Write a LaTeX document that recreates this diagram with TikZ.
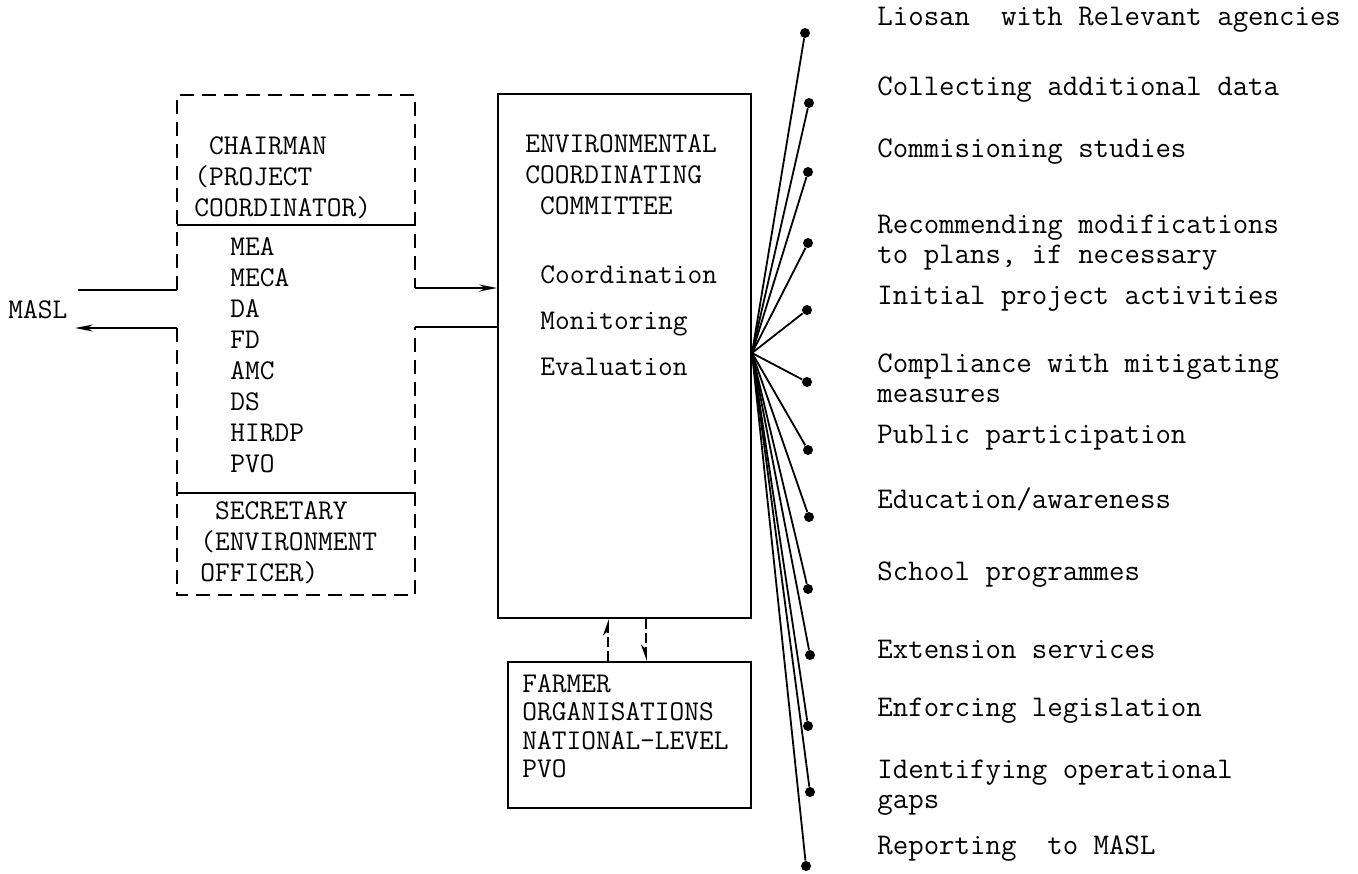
\documentclass[tikz,border=0pt]{standalone}
\usepackage{fontspec}
\usetikzlibrary{arrows.meta}
\newcommand\boxtype{\ttfamily\fontsize{14.3}{15.5}\selectfont}
\newcommand\listtype{\ttfamily\fontsize{15}{15}\selectfont}

\begin{document}
\begin{tikzpicture}[x=0.5pt,y=-0.5pt,
    edge/.style={line width=0.9pt},
    dashedge/.style={line width=0.9pt, dash pattern=on 7pt off 4pt},
    linkline/.style={line width=0.9pt, dash pattern=on 5pt off 2pt},
    solidbox/.style={draw, line width=0.9pt, inner sep=0pt},
    boxtext/.style={font=\boxtype, inner sep=0pt, align=left, anchor=west},
    listtext/.style={font=\listtype, inner sep=0pt, align=left, anchor=west},
    enddot/.style={circle, fill=black, inner sep=0pt, minimum size=5pt},
    narrowarrow/.style={-{Stealth[length=9pt,width=3.5pt,open]}}]
  \useasboundingbox (0,0) rectangle (1358,873);

  % the committee (dashed), open on both sides for the channel
  \coordinate (ul) at (177,290);
  \coordinate (ll) at (177,328);
  \coordinate (ur) at (415,288);
  \coordinate (lr) at (415,327);
  \draw[dashedge] (ul) -- (177,95) -- (415,95) -- (ur);
  \draw[dashedge] (ll) -- (177,595) -- (415,595) -- (lr);
  \draw[edge] (177,225) -- (415,225);
  \draw[edge] (177,493) -- (415,493);

  \node[boxtext] (chair) at (194,178) {~CHAIRMAN\\(PROJECT\\COORDINATOR)};
  \node[boxtext] (members) at (230,355) {MEA\\MECA\\DA\\FD\\AMC\\DS\\HIRDP\\PVO};
  \node[boxtext] (secr) at (200,543) {~SECRETARY\\(ENVIRONMENT\\OFFICER)};

  % MASL
  \node[boxtext] (masl) at (8,310) {MASL};
  \coordinate (masl-top) at (78,290);
  \coordinate (masl-bot) at (75,328);
  \draw[edge] (ul) -- (masl-top);
  \draw[edge, narrowarrow] (ll) -- (masl-bot);

  % coordinating committee
  \node[solidbox, minimum width=126.5pt, minimum height=262pt] (ecc) at (624.5,356) {};
  \node[boxtext] (ecc-title) at (525,175) {ENVIRONMENTAL\\COORDINATING\\~COMMITTEE};
  \node[boxtext, font={\ttfamily\fontsize{14.3}{23}\selectfont}] (ecc-tasks) at (540,321)
    {Coordination\\Monitoring\\Evaluation};
  \draw[edge, narrowarrow] (ur) -- (ur -| ecc.west);
  \draw[edge] (lr) -- (lr -| ecc.west);

  % farmer organisations
  \node[solidbox, minimum width=121.5pt, minimum height=73pt] (farmer) at (629.5,735) {};
  \node[boxtext, font={\ttfamily\fontsize{14.3}{14.25}\selectfont}] (farmer-text) at (522,726)
    {FARMER\\ORGANISATIONS\\NATIONAL-LEVEL\\PVO};
  \coordinate (upx) at (608,0);
  \coordinate (downx) at (646,0);
  \draw[linkline, -{Stealth[harpoon,length=7pt,width=5pt]}] (upx |- farmer.north) -- (upx |- ecc.south);
  \draw[linkline, -{Stealth[harpoon,swap,length=7pt,width=5pt]}] (downx |- ecc.south) -- (downx |- farmer.north);

  % tasks fanning out
  \coordinate (hub) at (752,353);
  \foreach \i/\dx/\dy/\ty/\txt in {
      1/805/33/20/{Liosan~ with Relevant agencies},
      2/809/103/90/{Collecting additional data},
      3/808/172/152/{Commisioning studies},
      4/808/243/243/{Recommending modifications\\to plans, if necessary},
      5/807/310/299/{Initial project activities},
      6/807/382/378/{Compliance with mitigating\\measures},
      7/808/450/438/{Public participation},
      8/809/517/499/{Education/awareness},
      9/808/589/575/{School programmes},
      10/810/655/649/{Extension services},
      11/808/726/711/{Enforcing legislation},
      12/810/792/788/{Identifying operational\\gaps},
      13/806/866/849/{Reporting~ to MASL}} {
    \node[enddot] (d\i) at (\dx,\dy) {};
    \draw[edge] (hub) -- (d\i);
    \node[listtext] (t\i) at (877,\ty) {\txt};
  }
\end{tikzpicture}
\end{document}
